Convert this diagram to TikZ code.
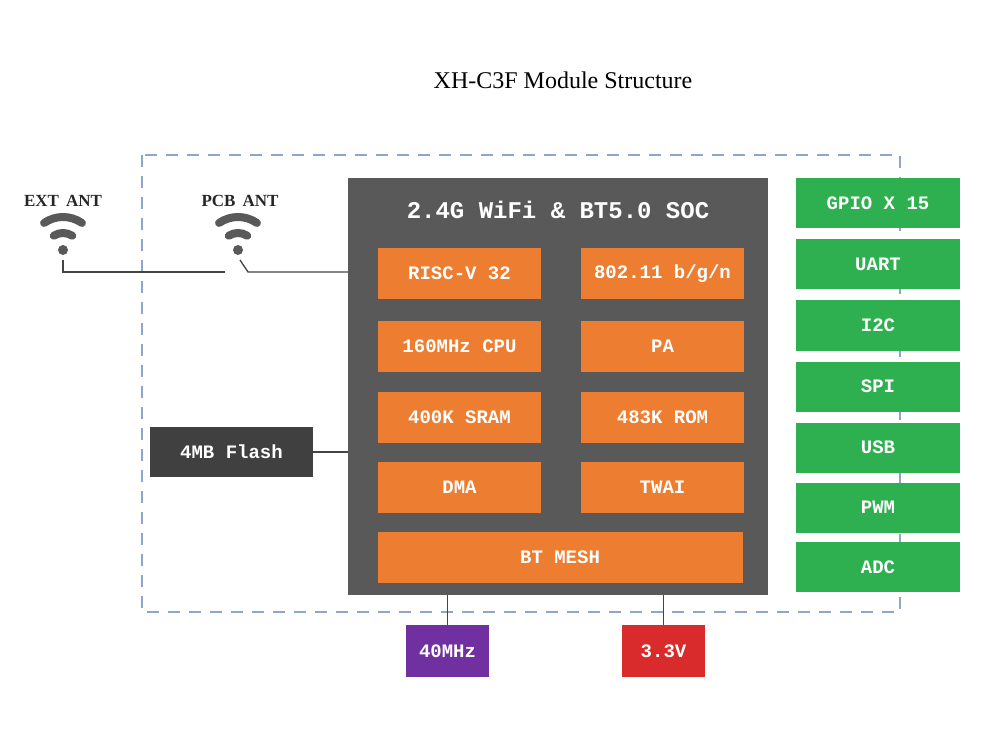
\documentclass[tikz,border=0pt]{standalone}
\usepackage{fontspec}
\setmainfont{Liberation Serif}
\newfontfamily\boxfont{Liberation Mono}
\definecolor{socGray}{HTML}{595959}
\definecolor{flashGray}{HTML}{404040}
\definecolor{coreOrange}{HTML}{ED7D31}
\definecolor{ioGreen}{HTML}{2FB050}
\definecolor{xtalPurple}{HTML}{7030A0}
\definecolor{pwrRed}{HTML}{D92B2B}
\definecolor{frameBlue}{HTML}{8EA6CC}
\definecolor{wireGray}{HTML}{444444}
\usetikzlibrary{positioning, calc}
\newcommand{\wifiicon}[1]{%
  \fill[socGray] (#1) circle (5);
  \draw[socGray, line width=8, line cap=round] ($(#1)+(237:17)$) arc (237:303:17);
  \draw[socGray, line width=8, line cap=round] ($(#1)+(235:33)$) arc (235:305:33);
}
\begin{document}
\begin{tikzpicture}[x=1pt, y=-1pt,
  core/.style={fill=coreOrange, minimum width=163, minimum height=51, inner sep=0,
    text=white, font=\boxfont\bfseries\fontsize{19}{22}\selectfont},
  io/.style={fill=ioGreen, minimum width=164, minimum height=50, inner sep=0,
    text=white, font=\boxfont\bfseries\fontsize{19}{22}\selectfont},
  ext/.style={minimum width=83, minimum height=52, inner sep=0,
    text=white, font=\boxfont\bfseries\fontsize{19}{22}\selectfont},
  ant/.style={font=\bfseries\fontsize{17}{19}\selectfont, text=black!85},
  wire/.style={draw=wireGray, line width=1.3}
]
  \useasboundingbox (0,0) rectangle (1001,743);

  % Title
  \node[font=\fontsize{24}{28}\selectfont] (title) at (563,80) {XH-C3F Module Structure};

  % Module outline
  \draw[frameBlue, line width=1.6, dash pattern=on 12pt off 9pt] (142,155) rectangle (900,612);

  % SoC
  \node[fill=socGray, minimum width=420, minimum height=417, inner sep=0] (soc) at (558,386.5) {};
  \node[text=white, font=\boxfont\bfseries\fontsize{24}{28}\selectfont] (soctitle) at (558,210) {2.4G WiFi \& BT5.0 SOC};
  \node[core] (risc) at (459.5,273.5) {RISC-V 32};
  \node[core] (wifi) at (662.5,273.5) {802.11 b/g/n};
  \node[core] (cpu) at (459.5,346.5) {160MHz CPU};
  \node[core] (pa) at (662.5,346.5) {PA};
  \node[core] (sram) at (459.5,417.5) {400K SRAM};
  \node[core] (rom) at (662.5,417.5) {483K ROM};
  \node[core] (dma) at (459.5,487.5) {DMA};
  \node[core] (twai) at (662.5,487.5) {TWAI};
  \node[core, minimum width=365] (mesh) at (560,557.5) {BT MESH};

  % Peripherals
  \node[io] (gpio) at (878,203) {GPIO X 15};
  \node[io] (uart) at (878,264.5) {UART};
  \node[io] (i2c) at (878,325.5) {I2C};
  \node[io] (spi) at (878,386.5) {SPI};
  \node[io] (usb) at (878,447.5) {USB};
  \node[io] (pwm) at (878,507.5) {PWM};
  \node[io] (adc) at (878,567) {ADC};

  % Flash, clock, power
  \node[ext, fill=flashGray, minimum width=163, minimum height=50] (flash) at (231.5,452) {4MB Flash};
  \node[ext, fill=xtalPurple] (xtal) at (447.5,651) {40MHz};
  \node[ext, fill=pwrRed] (pwr) at (663.5,651) {3.3V};
  \draw[wire] (flash.east) -- (flash.east -| soc.west);
  \draw[wire] (xtal.north) -- (xtal.north |- soc.south);
  \draw[wire] (pwr.north) -- (pwr.north |- soc.south);

  % Antennas
  \node[ant] (extant) at (63,201) {EXT\, ANT};
  \node[ant] (pcbant) at (240,201) {PCB\, ANT};
  \wifiicon{63,250}
  \wifiicon{238,250}
  \coordinate (extend) at (225,272);
  \coordinate (pcbbend) at (248,272);
  \draw[wire] (63,260) -- (63,272) -- (extend);
  \draw[wire] (240,260) -- (pcbbend) -- (pcbbend -| soc.west);
\end{tikzpicture}
\end{document}
